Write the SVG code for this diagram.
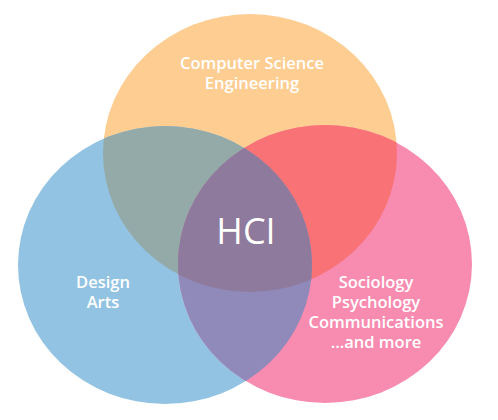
<svg xmlns="http://www.w3.org/2000/svg" width="498" height="420" viewBox="0 0 498 420">
  <defs>
    <ellipse id="eO" cx="250" cy="153" rx="147" ry="139"/>
    <ellipse id="eB" cx="165" cy="265" rx="147" ry="139"/>
    <ellipse id="eP" cx="325" cy="264" rx="147" ry="139"/>
    <clipPath id="cO"><use href="#eO"/></clipPath>
    <clipPath id="cB"><use href="#eB"/></clipPath>
    <clipPath id="cP"><use href="#eP"/></clipPath>
    <style>
      .lbl { font-family: "Open Sans", "Noto Sans", sans-serif; font-weight: 600; font-size: 16.5px; fill: #ffffff; text-anchor: middle; }
      .hci { font-family: "Open Sans", "Noto Sans", sans-serif; font-weight: 400; font-size: 36px; fill: #ffffff; text-anchor: middle; }
    </style>
  </defs>
  <rect width="498" height="420" fill="#ffffff"/>
  <g id="circles">
    <use href="#eO" fill="#FECD92"/>
    <use href="#eB" fill="#93C3E2"/>
    <use href="#eP" fill="#F78BB0"/>
    <g clip-path="url(#cO)">
      <use href="#eB" fill="#93AAA8"/>
      <use href="#eP" fill="#F87276"/>
    </g>
    <g clip-path="url(#cB)">
      <use href="#eP" fill="#8F8ABA"/>
    </g>
    <g clip-path="url(#cO)">
      <g clip-path="url(#cB)">
        <use href="#eP" fill="#8E7A9C"/>
      </g>
    </g>
  </g>
  <g id="node-cs">
    <text class="lbl" x="252" y="69">Computer Science</text>
    <text class="lbl" x="252" y="89">Engineering</text>
  </g>
  <g id="node-design">
    <text class="lbl" x="103" y="288">Design</text>
    <text class="lbl" x="103" y="308">Arts</text>
  </g>
  <g id="node-social">
    <text class="lbl" x="376" y="288">Sociology</text>
    <text class="lbl" x="376" y="308">Psychology</text>
    <text class="lbl" x="376" y="328">Communications</text>
    <text class="lbl" x="376" y="348">...and more</text>
  </g>
  <g id="node-hci">
    <text class="hci" x="246" y="244">HCI</text>
  </g>
</svg>
